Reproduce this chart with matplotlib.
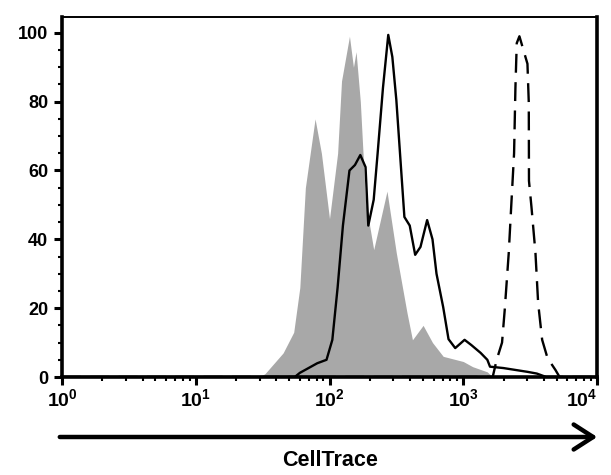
import matplotlib
matplotlib.use("Agg")
import matplotlib.pyplot as plt
from matplotlib.ticker import FixedLocator, MultipleLocator

plt.rcParams['font.family'] = ['Liberation Sans', 'DejaVu Sans']
plt.rcParams['font.weight'] = 'bold'
plt.rcParams['mathtext.fontset'] = 'custom'
plt.rcParams['mathtext.rm'] = 'Liberation Sans:bold'
plt.rcParams['mathtext.bf'] = 'Liberation Sans:bold'
plt.rcParams['mathtext.default'] = 'bf'

# gray filled histogram (unstimulated / control)
gray_x = [1, 30, 33, 45, 54, 60, 66, 78, 87, 100, 115, 123, 141, 151, 158, 170,
          186, 214, 269, 316, 380, 417, 501, 589, 708, 1000, 1175, 1510, 1660, 10000]
gray_y = [0, 0, 1, 7, 13, 26, 55, 75, 65, 46, 65, 86, 99, 90, 94.5, 80,
          51, 37, 54, 36, 18.6, 10.8, 15, 10, 6, 4.5, 3, 1.5, 0, 0]

# solid black histogram
solid_x = [1, 55, 60, 81, 95, 105, 115, 126, 141, 155, 170, 186, 195, 214, 229,
           251, 275, 295, 316, 363, 398, 437, 479, 537, 589, 631, 708, 776, 871,
           1023, 1148, 1349, 1514, 1585, 1995, 3020, 3548, 4170, 10000]
solid_y = [0, 0, 1.2, 4, 5, 10.8, 26, 44, 60, 61.6, 64.5, 61, 44, 51.5, 65,
           84, 99.4, 93, 80.5, 46.5, 44, 35.5, 37.8, 45.6, 40, 30, 20.3, 11, 8.4,
           10.8, 9.3, 7, 5, 3, 2.6, 1.5, 1, 0, 0]

# dashed histogram
dash_x = [1, 1660, 1778, 1950, 2042, 2188, 2291, 2399, 2455, 2512, 2630, 2818,
          3020, 3090, 3100, 3236, 3467, 3630, 3890, 4266, 4898, 5250, 10000]
dash_y = [0, 0, 5, 10, 19.5, 36, 50.6, 65, 84, 97, 99, 95,
          91, 79.7, 57, 49.4, 36, 21.5, 10.8, 5.5, 2, 0, 0]

decades = [1, 10, 100, 1000, 10000]
decade_labels = [r'$10^{0}$', r'$10^{1}$', r'$10^{2}$', r'$10^{3}$', r'$10^{4}$']
y_ticks = [0, 20, 40, 60, 80, 100]

fig = plt.figure(figsize=(6.11, 4.75), dpi=100)
ax = fig.add_axes([62 / 611, 1 - 377 / 475, 535 / 611, 360 / 475])

ax.fill_between(gray_x, gray_y, 0, color='#a8a8a8', lw=0)
ax.plot(solid_x, solid_y, color='black', lw=1.7)
ax.plot(dash_x, dash_y, color='black', lw=1.7, dashes=(8, 4))

ax.set_xscale('log')
ax.set_xlim(1, 10000)
ax.set_ylim(0, 104.6)

ax.xaxis.set_major_locator(FixedLocator(decades))
ax.set_xticklabels(decade_labels, fontsize=14)
ax.xaxis.set_minor_locator(FixedLocator([d * m for d in decades[:-1] for m in range(2, 10)]))
ax.xaxis.set_minor_formatter(plt.NullFormatter())

# keep the 10^4 label inside the picture
ax.get_xticklabels()[-1].set_horizontalalignment('right')

ax.set_yticks(y_ticks)
ax.set_yticklabels([str(v) for v in y_ticks], fontsize=13)
ax.yaxis.set_minor_locator(MultipleLocator(5))

ax.tick_params(axis='both', which='major', length=6, width=2.2, direction='out', pad=4)
ax.tick_params(axis='x', which='major', pad=2)
ax.tick_params(axis='both', which='minor', length=3, width=1.5, direction='out')

for side in ['left', 'bottom', 'right']:
    ax.spines[side].set_linewidth(2.6)
ax.spines['top'].set_linewidth(1.4)

# arrow under the axis
fig.patches.append(matplotlib.patches.FancyArrowPatch(
    (57 / 611, 1 - 437 / 475), (600 / 611, 1 - 437 / 475),
    transform=fig.transFigure, arrowstyle='->,head_length=0.7,head_width=0.45',
    lw=3.2, color='black', mutation_scale=20))

fig.text(330 / 611, 1 - 461 / 475, 'CellTrace', ha='center', va='center',
         fontsize=15.5, fontweight='bold')

fig.savefig('out.png', dpi=100)
